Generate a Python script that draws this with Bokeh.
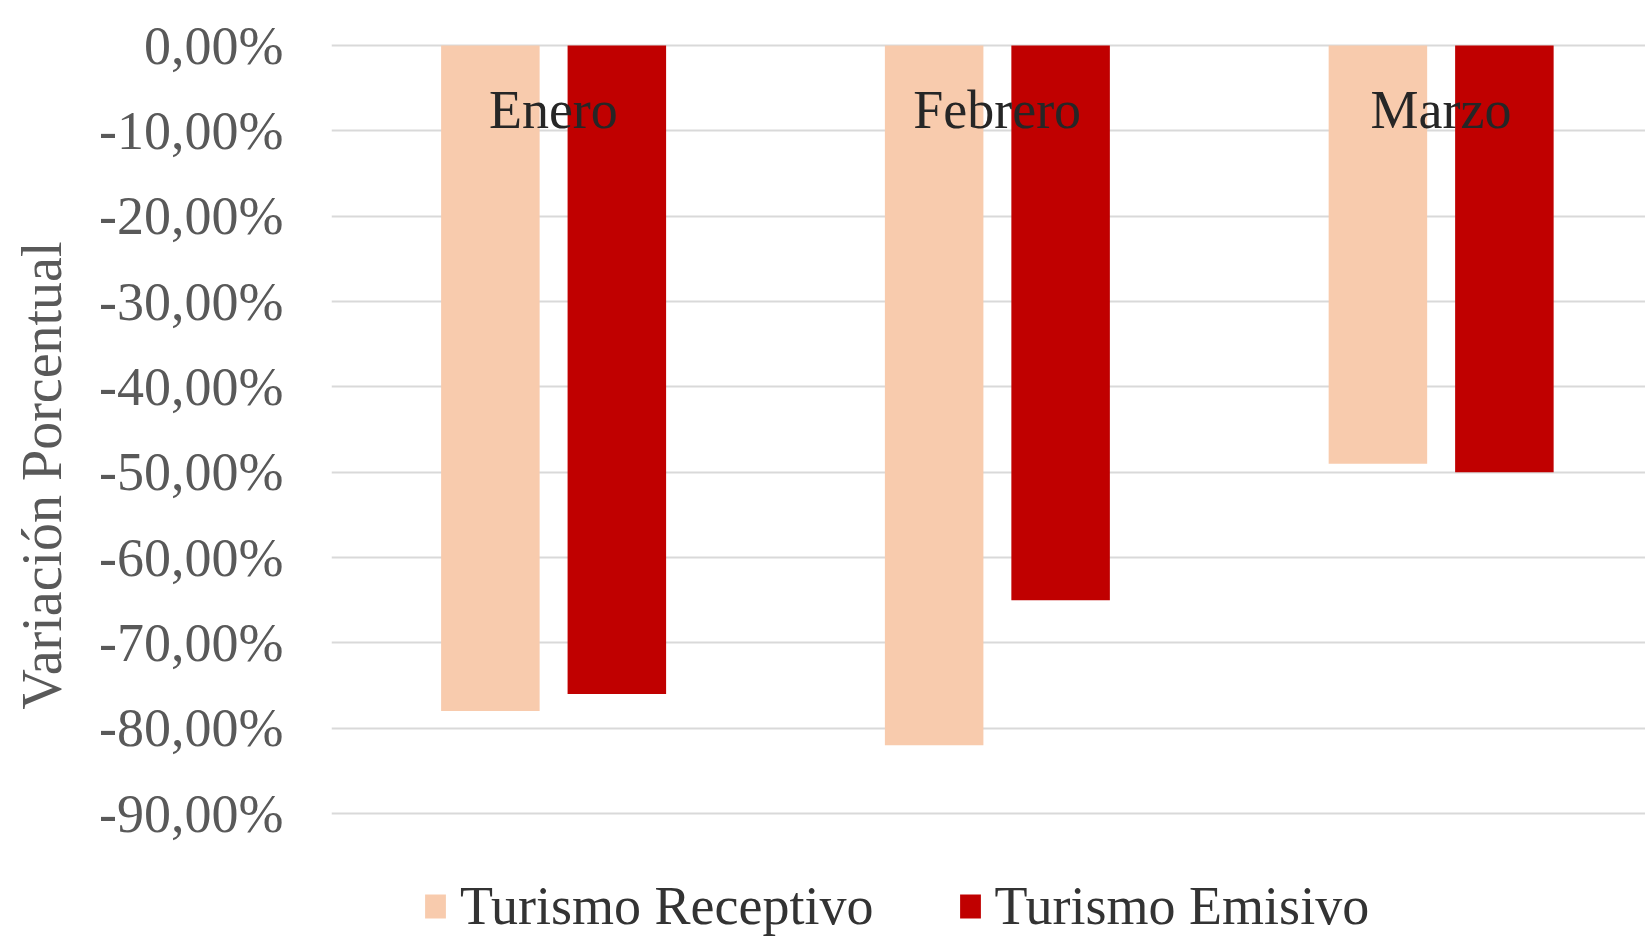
from bokeh.plotting import figure
from bokeh.models import (ColumnDataSource, FixedTicker, CustomJSTickFormatter,
                          Legend, LegendItem, Range1d)
from bokeh.transform import dodge
from bokeh.core.properties import value
from bokeh.embed import file_html
from bokeh.resources import INLINE

# ---- data ----
months = ["Enero", "Febrero", "Marzo"]
month_pos = [0.5, 1.5, 2.5]
receptivo = [-78.0, -82.0, -49.0]
emisivo = [-76.0, -65.0, -50.0]
y_ticks = [0, -10, -20, -30, -40, -50, -60, -70, -80, -90]
label_y = [-7.5, -7.5, -7.5]

FONT = "Liberation Serif"

src = ColumnDataSource(dict(x=month_pos, month=months, rec=receptivo,
                            emi=emisivo, ly=label_y))

p = figure(width=1645, height=937, output_backend="svg", toolbar_location=None,
           x_range=Range1d(0, 2.961), y_range=Range1d(-104.53, 0.469),
           x_axis_location=None, min_border_left=331, min_border_right=0,
           min_border_top=41, min_border_bottom=0)

p.outline_line_color = None
p.background_fill_color = "white"
p.border_fill_color = "white"
p.xgrid.visible = False
p.ygrid.grid_line_color = "#D9D9D9"
p.ygrid.grid_line_width = 2
p.ygrid.ticker = FixedTicker(ticks=y_ticks)

r1 = p.vbar(x=dodge("x", -0.142, range=p.x_range), top=0, bottom="rec",
            width=0.222, source=src, fill_color="#F8CBAD", line_color=None)
r2 = p.vbar(x=dodge("x", 0.143, range=p.x_range), top=0, bottom="emi",
            width=0.222, source=src, fill_color="#C00000", line_color=None)

p.text(x="x", y="ly", text="month", source=src, text_align="center",
       text_baseline="middle", text_font=value(FONT), text_font_size="54px",
       text_color="#262626")

ax = p.yaxis[0]
ax.ticker = FixedTicker(ticks=y_ticks)
ax.formatter = CustomJSTickFormatter(
    code="return tick.toFixed(2).replace('.', ',') + '%';")
ax.axis_line_color = None
ax.major_tick_line_color = None
ax.minor_tick_line_color = None
ax.major_tick_out = 0
ax.major_label_standoff = 48
ax.major_label_text_font = FONT
ax.major_label_text_font_size = "54px"
ax.major_label_text_color = "#595959"
ax.axis_label = "\u00a0\u00a0Variación Porcentual"
ax.axis_label_text_font = FONT
ax.axis_label_text_font_size = "56px"
ax.axis_label_text_font_style = "normal"
ax.axis_label_text_color = "#595959"
ax.axis_label_standoff = 23

legend = Legend(items=[LegendItem(label="Turismo Receptivo", renderers=[r1]),
                       LegendItem(label="Turismo Emisivo", renderers=[r2])],
                orientation="horizontal", location=(91, 0),
                glyph_width=26, glyph_height=30, label_standoff=12,
                spacing=83, padding=0, margin=0,
                label_text_font=FONT, label_text_font_size="54px",
                label_text_color="#333333", border_line_color=None,
                background_fill_alpha=0)
p.add_layout(legend, "center")

open("out.html", "w").write(file_html(p, INLINE))
